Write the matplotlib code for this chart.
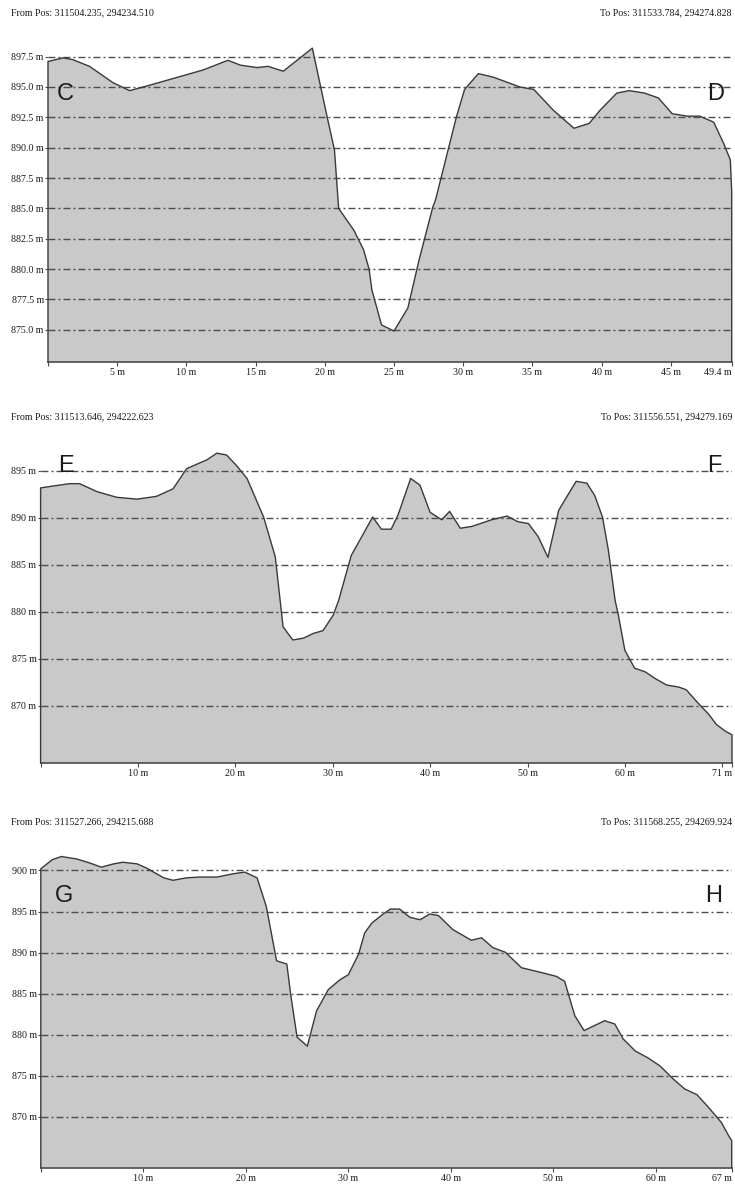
"""Elevation profiles C-D, E-F and G-H."""
import matplotlib.pyplot as plt

W, H, DPI = 735, 1184, 100

FILL = "#c9c9c9"
EDGE = "#3a3a3a"
GRID = "#4d4d4d"
TEXT = "#1a1a1a"
SERIF = "Liberation Serif"
SANS = "Liberation Sans"

# ---- profile C - D ----
cd_from = "From Pos: 311504.235, 294234.510"
cd_to = "To Pos: 311533.784, 294274.828"
cd_dist = [0.0, 1.1, 1.8, 3.0, 4.7, 5.9, 7.2, 11.2, 13.0, 13.9, 15.1, 15.9, 17.0,
           19.1, 20.1, 20.7, 21.0, 22.1, 22.8, 23.2, 23.4, 24.1, 25.0, 26.0, 26.8,
           27.8, 28.0, 29.5, 30.1, 31.1, 32.2, 34.1, 35.1, 36.5, 38.0, 39.1, 39.9,
           41.1, 42.0, 43.1, 44.1, 45.1, 46.2, 47.1, 48.1, 48.8, 49.3, 49.4]
cd_elev = [897.1, 897.4, 897.25, 896.7, 895.35, 894.7, 895.1, 896.4, 897.2, 896.8,
           896.6, 896.7, 896.3, 898.2, 892.9, 889.8, 885.0, 883.2, 881.6, 880.0,
           878.3, 875.4, 874.9, 876.8, 880.7, 885.1, 885.7, 892.5, 894.8, 896.1,
           895.8, 895.0, 894.8, 893.1, 891.6, 892.0, 893.1, 894.5, 894.7, 894.5,
           894.1, 892.8, 892.6, 892.6, 892.1, 890.4, 889.0, 886.4]
cd_yticks = [875.0, 877.5, 880.0, 882.5, 885.0, 887.5, 890.0, 892.5, 895.0, 897.5]
cd_xticks = [0, 5, 10, 15, 20, 25, 30, 35, 40, 45]
cd_end = 49.4
cd_end_label = "49.4 m"
cd_letters = ("C", "D")

# ---- profile E - F ----
ef_from = "From Pos: 311513.646, 294222.623"
ef_to = "To Pos: 311556.551, 294279.169"
ef_dist = [0.0, 1.3, 3.0, 4.0, 5.8, 7.8, 9.9, 11.9, 13.6, 15.0, 17.1, 18.1, 19.1,
           20.1, 21.2, 22.9, 24.1, 24.6, 24.9, 25.9, 27.0, 28.0, 29.0, 30.05, 30.6,
           31.9, 33.3, 34.1, 35.0, 36.0, 36.7, 38.0, 38.95, 40.0, 41.2, 42.0, 43.1,
           44.3, 46.3, 47.9, 49.0, 50.1, 51.1, 52.1, 53.2, 54.0, 55.0, 56.1, 56.9,
           57.7, 58.3, 59.0, 59.3, 60.0, 61.0, 62.1, 63.1, 64.3, 65.5, 66.3, 67.5,
           68.6, 69.4, 70.3, 71.0]
ef_elev = [893.2, 893.4, 893.65, 893.65, 892.8, 892.2, 892.0, 892.3, 893.1, 895.25,
           896.2, 896.9, 896.7, 895.6, 894.2, 890.1, 885.85, 881.2, 878.4, 877.0,
           877.2, 877.7, 878.0, 879.65, 881.2, 886.0, 888.6, 890.1, 888.8, 888.8,
           890.3, 894.2, 893.5, 890.6, 889.8, 890.7, 888.9, 889.1, 889.8, 890.2,
           889.6, 889.4, 888.0, 885.8, 890.8, 892.2, 893.9, 893.7, 892.4, 890.1,
           886.6, 881.2, 879.8, 875.9, 874.0, 873.6, 872.9, 872.2, 872.0, 871.7,
           870.3, 869.1, 868.0, 867.3, 866.9]
ef_yticks = [870, 875, 880, 885, 890, 895]
ef_xticks = [0, 10, 20, 30, 40, 50, 60, 70]
ef_end = 71.0
ef_end_label = "71 m"
ef_letters = ("E", "F")

# ---- profile G - H ----
gh_from = "From Pos: 311527.266, 294215.688"
gh_to = "To Pos: 311568.255, 294269.924"
gh_dist = [0.0, 1.1, 2.0, 3.5, 4.8, 5.9, 7.1, 8.0, 9.4, 10.3, 12.0, 12.9, 14.2,
           15.5, 17.2, 18.8, 19.9, 21.1, 22.0, 23.0, 24.0, 24.4, 25.0, 26.0, 26.9,
           28.05, 29.2, 30.0, 31.0, 31.6, 32.3, 33.3, 34.1, 35.0, 36.0, 37.0, 37.95,
           38.8, 40.2, 42.0, 43.0, 44.1, 45.3, 46.9, 48.9, 50.3, 51.1, 52.1, 53.0,
           55.0, 56.0, 56.8, 58.0, 59.2, 60.4, 61.7, 62.8, 64.0, 65.1, 66.4, 67.1,
           67.4]
gh_elev = [900.2, 901.3, 901.7, 901.4, 900.9, 900.4, 900.8, 901.0, 900.8, 900.3,
           899.1, 898.8, 899.1, 899.2, 899.2, 899.6, 899.8, 899.1, 895.6, 889.0,
           888.6, 884.7, 879.7, 878.6, 882.9, 885.5, 886.7, 887.3, 889.8, 892.4,
           893.6, 894.6, 895.3, 895.3, 894.3, 894.0, 894.7, 894.5, 892.8, 891.5,
           891.8, 890.6, 890.05, 888.15, 887.55, 887.1, 886.5, 882.3, 880.5, 881.7,
           881.3, 879.5, 878.0, 877.2, 876.2, 874.6, 873.4, 872.7, 871.2, 869.3,
           867.7, 867.1]
gh_yticks = [870, 875, 880, 885, 890, 895, 900]
gh_xticks = [0, 10, 20, 30, 40, 50, 60]
gh_end = 67.4
gh_end_label = "67 m"
gh_letters = ("G", "H")


def draw_profile(rect, dist, elev, ylim, yticks, yfmt, xticks, xend, end_label,
                 letters, letter_pos, header_y, headers):
    """One profile panel; rect is (left, top, right, bottom) in pixels."""
    left, top, right, bottom = rect
    ax = fig.add_axes([left / W, 1 - bottom / H, (right - left) / W, (bottom - top) / H])
    y0, y1 = ylim

    ax.fill_between(dist, elev, y0, facecolor=FILL, edgecolor="none", zorder=1)
    ax.plot([dist[0]] + dist + [dist[-1]], [y0] + elev + [y0],
            color=EDGE, lw=1.0, zorder=3, clip_on=False)

    for y in yticks:
        ax.axhline(y, color=GRID, lw=1.0, ls=(0, (5, 2.2, 1.4, 2.2)), zorder=2)

    ax.set_xlim(0, xend)
    ax.set_ylim(y0, y1)

    for side in ("top", "right", "left"):
        ax.spines[side].set_visible(False)
    ax.spines["bottom"].set_color("#4a4a4a")
    ax.spines["bottom"].set_linewidth(1.2)

    ax.set_yticks(yticks)
    ax.set_yticklabels([yfmt.format(v) for v in yticks], family=SERIF,
                       fontsize=7.2, color=TEXT)
    ax.tick_params(axis="y", length=2.5, width=0.8, color=GRID, pad=0.5)

    labels = [f"{v} m" if v > 0 and xend - v > 2 else "" for v in xticks]
    ax.set_xticks(xticks + [xend])
    ax.set_xticklabels(labels + [end_label], family=SERIF, fontsize=7.2, color=TEXT)
    ax.get_xticklabels()[-1].set_horizontalalignment("right")
    ax.tick_params(axis="x", length=3, width=0.8, color="#4a4a4a", pad=1.5)

    (lx, ly), (rx, ry) = letter_pos
    ax.text(lx, ly, letters[0], family=SANS, fontsize=17, color=TEXT, va="baseline")
    ax.text(rx, ry, letters[1], family=SANS, fontsize=17, color=TEXT, va="baseline")

    fig.text(11 / W, 1 - header_y / H, headers[0], family=SERIF, fontsize=7.2,
             color=TEXT, va="center", ha="left")
    fig.text(732 / W, 1 - header_y / H, headers[1], family=SERIF, fontsize=7.2,
             color=TEXT, va="center", ha="right")
    return ax


fig = plt.figure(figsize=(W / DPI, H / DPI), dpi=DPI)

draw_profile((48, 36, 731.7, 362), cd_dist, cd_elev, (872.35, 899.2), cd_yticks,
             "{:.1f} m", cd_xticks, cd_end, cd_end_label, cd_letters,
             ((0.65, 893.95), (47.6, 893.95)), 13, (cd_from, cd_to))
draw_profile((40.6, 440, 732, 763), ef_dist, ef_elev, (863.9, 898.3), ef_yticks,
             "{:d} m", ef_xticks, ef_end, ef_end_label, ef_letters,
             ((1.8, 894.86), (68.4, 894.86)), 417, (ef_from, ef_to))
draw_profile((40.8, 845, 731.7, 1167.7), gh_dist, gh_elev, (863.8, 903.1), gh_yticks,
             "{:d} m", gh_xticks, gh_end, gh_end_label, gh_letters,
             ((1.4, 896.1), (64.8, 896.1)), 821.7, (gh_from, gh_to))

fig.savefig("out.png", dpi=DPI)
